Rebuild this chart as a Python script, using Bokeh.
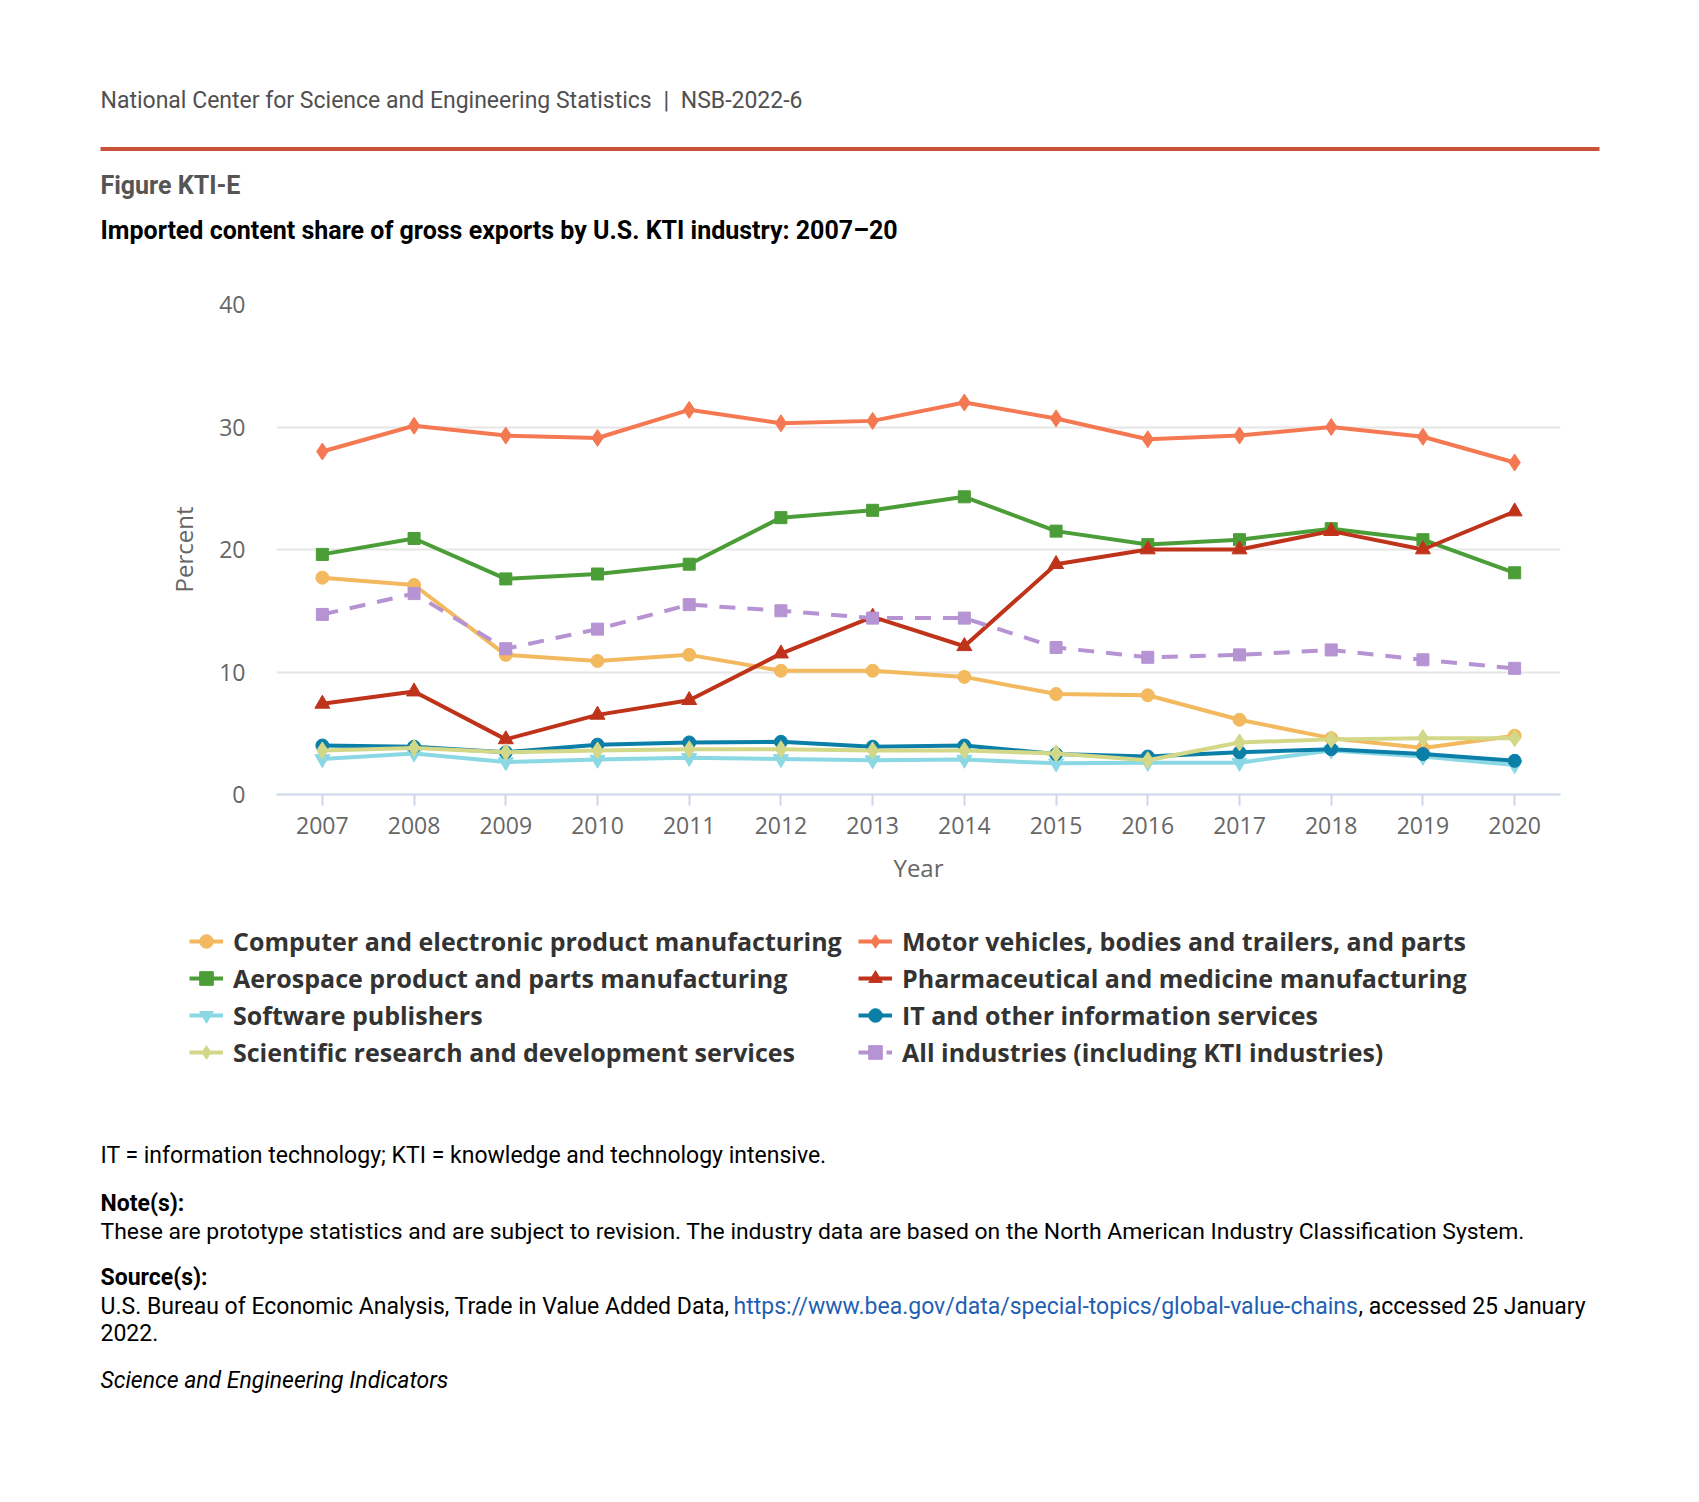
from bokeh.plotting import figure
from bokeh.layouts import column
from bokeh.models import Legend, LegendItem, BoxAnnotation, FixedTicker, Range1d, ColumnDataSource
from bokeh.core.properties import value
from bokeh.embed import file_html
from bokeh.resources import INLINE

years = list(range(2007, 2021))
computer = [17.7, 17.1, 11.4, 10.9, 11.4, 10.1, 10.1, 9.6, 8.2, 8.1, 6.1, 4.6, 3.8, 4.8]
motor = [28.0, 30.1, 29.3, 29.1, 31.4, 30.3, 30.5, 32.0, 30.7, 29.0, 29.3, 30.0, 29.2, 27.1]
aerospace = [19.6, 20.9, 17.6, 18.0, 18.8, 22.6, 23.2, 24.3, 21.5, 20.4, 20.8, 21.7, 20.8, 18.1]
pharma = [7.4, 8.4, 4.5, 6.5, 7.7, 11.5, 14.5, 12.1, 18.8, 20.0, 20.0, 21.5, 20.0, 23.1]
software = [2.9, 3.35, 2.65, 2.85, 3.0, 2.9, 2.8, 2.85, 2.55, 2.6, 2.6, 3.6, 3.1, 2.4]
it_services = [4.0, 3.9, 3.45, 4.07, 4.25, 4.3, 3.9, 4.0, 3.3, 3.1, 3.45, 3.7, 3.3, 2.75]
scientific = [3.6, 3.8, 3.45, 3.6, 3.7, 3.7, 3.6, 3.6, 3.35, 2.8, 4.25, 4.5, 4.6, 4.6]
all_industries = [14.7, 16.4, 11.9, 13.5, 15.5, 15.0, 14.4, 14.4, 12.0, 11.2, 11.4, 11.8, 11.0, 10.3]

series_names = [
    "Computer and electronic product manufacturing",
    "Motor vehicles, bodies and trailers, and parts",
    "Aerospace product and parts manufacturing",
    "Pharmaceutical and medicine manufacturing",
    "Software publishers",
    "IT and other information services",
    "Scientific research and development services",
    "All industries (including KTI industries)",
]
series_values = [computer, motor, aerospace, pharma, software, it_services, scientific, all_industries]
series_colors = ["#F2B95F", "#F47952", "#4B9E37", "#C0331B", "#8AD8E3", "#0B7FA8", "#D3D889", "#B693D3"]
series_markers = ["circle", "diamond", "square", "triangle", "inverted_triangle", "circle", "diamond", "square"]
series_sizes = [13, 17, 12, 15, 15, 13, 17, 12]
series_dash = ["solid"] * 7 + ["16 12"]

y_ticks = [0, 10, 20, 30, 40]

W = 1683
H_HEAD, H_MAIN, H_BOT = 270, 630, 586
FR_L, FR_R = 276, 1560
FR_T, FR_B = 304 - H_HEAD, 794 - H_HEAD   # within main figure


def text_figure(height):
    f = figure(width=W, height=height, output_backend="svg", toolbar_location=None,
               x_range=Range1d(0, W), y_range=Range1d(height, 0),
               x_axis_location=None, y_axis_location=None,
               min_border=0, min_border_left=0, min_border_right=0,
               min_border_top=0, min_border_bottom=0, frame_align=False)
    f.grid.visible = False
    f.outline_line_color = None
    f.background_fill_color = "white"
    f.border_fill_color = "white"
    return f


def put(f, x, y, text, size="23px", color="#000000", style="normal", font="Roboto"):
    f.text(x=[x], y=[y], text=[text], text_font=value(font), text_font_size=size,
           text_color=color, text_font_style=style, text_baseline="middle", text_align="left")


# ---------------- header ----------------
head = text_figure(H_HEAD)
put(head, 100, 100, "National Center for Science and Engineering Statistics\u2002|\u2002NSB-2022-6",
    size="23px", color="#505050")
head.add_layout(BoxAnnotation(left=100, right=1599, top=146.5, bottom=150.5,
                              fill_color="#C9523C", fill_alpha=1.0, line_color=None))
put(head, 100, 185, "Figure KTI-E", size="25px", color="#555555", style="bold")
put(head, 100, 230, "Imported content share of gross exports by U.S. KTI industry: 2007\u201320",
    size="25px", color="#000000", style="bold")

# ---------------- main chart ----------------
p = figure(width=W, height=H_MAIN, output_backend="svg", toolbar_location=None,
           x_range=Range1d(2006.5, 2020.5), y_range=Range1d(0, 40),
           min_border_left=FR_L, min_border_right=W - FR_R,
           min_border_top=FR_T, min_border_bottom=H_MAIN - FR_B, frame_align=False)
p.outline_line_color = None
p.background_fill_color = "white"
p.border_fill_color = "white"

p.xaxis.ticker = FixedTicker(ticks=years)
p.xaxis.axis_line_color = "#ccd6eb"
p.xaxis.axis_line_width = 2
p.xaxis.major_tick_line_color = "#ccd6eb"
p.xaxis.major_tick_line_width = 2
p.xaxis.major_tick_out = 11
p.xaxis.major_tick_in = 0
p.xaxis.minor_tick_line_color = None
p.xaxis.major_label_text_font = "Open Sans"
p.xaxis.major_label_text_font_size = "23px"
p.xaxis.major_label_text_color = "#666666"
p.xaxis.major_label_standoff = 11
p.xaxis.axis_label = "Year"
p.xaxis.axis_label_text_font = "Open Sans"
p.xaxis.axis_label_text_font_size = "24px"
p.xaxis.axis_label_text_font_style = "normal"
p.xaxis.axis_label_text_color = "#666666"
p.xaxis.axis_label_standoff = 14

p.yaxis.ticker = FixedTicker(ticks=y_ticks)
p.yaxis.axis_line_color = None
p.yaxis.major_tick_line_color = None
p.yaxis.minor_tick_line_color = None
p.yaxis.major_tick_out = 0
p.yaxis.major_tick_in = 0
p.yaxis.major_label_text_font = "Open Sans"
p.yaxis.major_label_text_font_size = "23px"
p.yaxis.major_label_text_color = "#666666"
p.yaxis.major_label_standoff = 31
p.yaxis.axis_label = "Percent"
p.yaxis.axis_label_text_font = "Open Sans"
p.yaxis.axis_label_text_font_size = "24px"
p.yaxis.axis_label_text_font_style = "normal"
p.yaxis.axis_label_text_color = "#666666"
p.yaxis.axis_label_standoff = 16

p.xgrid.grid_line_color = None
p.ygrid.grid_line_color = "#e6e6e6"
p.ygrid.grid_line_width = 2

for name, vals, col, mk, sz, dash in zip(series_names, series_values, series_colors,
                                         series_markers, series_sizes, series_dash):
    src = ColumnDataSource(dict(x=years, y=vals))
    p.line("x", "y", source=src, line_color=col, line_width=4, line_dash=dash)
    p.scatter("x", "y", source=src, marker=mk, size=sz, fill_color=col, line_color=col)

# ---------------- legend + footer ----------------
bot = text_figure(H_BOT)
items = []
nan = float("nan")
for name, col, mk, sz, dash in zip(series_names, series_colors, series_markers, series_sizes, series_dash):
    src = ColumnDataSource(dict(x=[nan], y=[nan]))   # legend-only renderers, nothing drawn
    lr = bot.line("x", "y", source=src, line_color=col, line_width=4, line_dash=dash)
    sr = bot.scatter("x", "y", source=src, marker=mk, size=sz, fill_color=col, line_color=col)
    items.append(LegendItem(label=name, renderers=[lr, sr]))

LEG_TOP = 24
LEG_H = 4 * 34 + 3 * 3
legend = Legend(items=items, orientation="horizontal", ncols=2,
                location=(189, H_BOT - LEG_TOP - LEG_H),
                label_text_font="Open Sans", label_text_font_style="bold",
                label_text_font_size="25px", label_text_color="#333333",
                glyph_width=34, glyph_height=34, label_height=34, label_width=622,
                label_standoff=10, spacing=3, padding=0, margin=0,
                border_line_color=None, background_fill_alpha=0)
bot.add_layout(legend, "center")

put(bot, 100, 255, "IT = information technology; KTI = knowledge and technology intensive.")
put(bot, 100, 303, "Note(s):", style="bold")
put(bot, 100, 331, "These are prototype statistics and are subject to revision. The industry data are based on the North American Industry Classification System.",
    size="22.9px")
put(bot, 100, 377, "Source(s):", style="bold")
put(bot, 100, 406, "U.S. Bureau of Economic Analysis, Trade in Value Added Data,")
put(bot, 733, 406, "https://www.bea.gov/data/special-topics/global-value-chains", color="#1f5fb3")
put(bot, 1358, 406, ", accessed 25 January")
put(bot, 100, 432, "2022.")
put(bot, 100, 480, "Science and Engineering Indicators", style="italic")

layout = column(head, p, bot, spacing=0)
open("out.html", "w").write(file_html(layout, INLINE))
